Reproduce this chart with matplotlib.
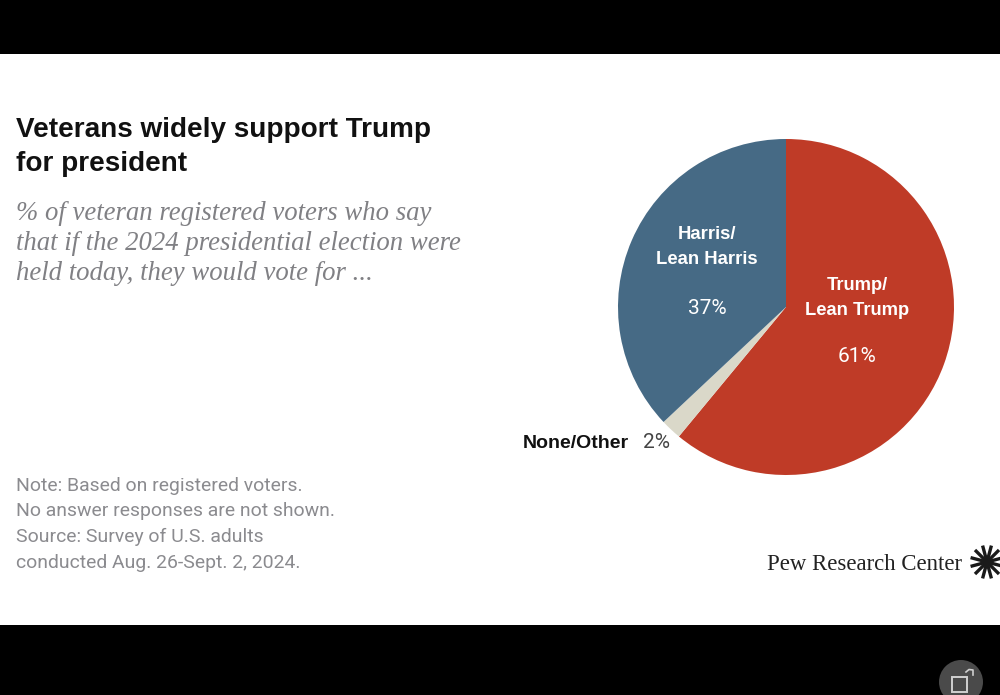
import numpy as np
import matplotlib
matplotlib.use("Agg")
import matplotlib.pyplot as plt
from matplotlib.patches import Rectangle, Circle

slice_names = ["Trump/\nLean Trump", "None/Other", "Harris/\nLean Harris"]
slice_values = [61, 2, 37]
slice_colors = ["#BF3B27", "#DAD8C9", "#466A85"]
value_labels = ["61%", "2%", "37%"]

title = "Veterans widely support Trump\nfor president"
subtitle = ["% of veteran registered voters who say",
            "that if the 2024 presidential election were",
            "held today, they would vote for ..."]
notes = ["Note: Based on registered voters.",
         "No answer responses are not shown.",
         "Source: Survey of U.S. adults",
         "conducted Aug. 26-Sept. 2, 2024."]

W, H = 1000, 695
fig = plt.figure(figsize=(W / 100, H / 100), dpi=100, facecolor="black")

# page layer in pixel coords
bg = fig.add_axes([0, 0, 1, 1])
bg.set_xlim(0, W)
bg.set_ylim(H, 0)
bg.axis("off")
bg.add_patch(Rectangle((0, 54), W, 571, color="white", lw=0))

# pie, centre 786,307 radius 168
cx, cy, r = 786, 307, 168
pie_ax = fig.add_axes([(cx - r) / W, 1 - (cy + r) / H, 2 * r / W, 2 * r / H])
pie_ax.pie(slice_values, colors=slice_colors, startangle=90, counterclock=False,
           radius=1, wedgeprops=dict(lw=0))
pie_ax.set_xlim(-1, 1)
pie_ax.set_ylim(-1, 1)

# text layer on top of the pie
fg = fig.add_axes([0, 0, 1, 1])
fg.set_xlim(0, W)
fg.set_ylim(H, 0)
fg.axis("off")
fg.patch.set_alpha(0)

SANS = "Liberation Sans"
fg.text(16, 130, title.split("\n")[0], family=SANS, weight="bold", fontsize=20.05,
        color="#111111", va="center")
fg.text(16, 164, title.split("\n")[1], family=SANS, weight="bold", fontsize=20.05,
        color="#111111", va="center")
for y, line in zip([213, 243, 274], subtitle):
    fg.text(16, y, line, family="Liberation Serif", style="italic", fontsize=19.3,
            color="#808084", va="center")
for y, line in zip([486, 511, 537, 563], notes):
    fg.text(16, y, line, family="Roboto", fontsize=13.95, color="#8b8b8f", va="center")

fg.text(857, 298, slice_names[0], family=SANS, weight="bold", fontsize=13.2, color="white",
        ha="center", va="center", linespacing=1.65)
fg.text(857, 356, value_labels[0], family="Roboto", fontsize=15, color="white",
        ha="center", va="center")
fg.text(707, 247, slice_names[2], family=SANS, weight="bold", fontsize=13.3, color="white",
        ha="center", va="center", linespacing=1.65)
fg.text(707, 308, value_labels[2], family="Roboto", fontsize=15, color="white",
        ha="center", va="center")
fg.text(629, 443, slice_names[1], family=SANS, weight="bold", fontsize=14, color="#111111",
        ha="right", va="center")
fg.text(643, 443, value_labels[1], family="Roboto", fontsize=15, color="#444444",
        ha="left", va="center")

# logo
fg.text(767, 564, "Pew Research Center", family="Liberation Serif", fontsize=16.4,
        color="#222222", va="center")
lx, ly = 987, 562
for a in np.arange(0, 360, 30):
    ca, sa = np.cos(np.radians(a + 15)), np.sin(np.radians(a + 15))
    fg.plot([lx + 3 * ca, lx + 17 * ca], [ly + 3 * sa, ly + 17 * sa],
            color="#1a1a1a", lw=2.4, solid_capstyle="butt")
fg.add_patch(Circle((lx, ly), 4.5, color="#1a1a1a", lw=0, zorder=5))

# phone rotate button
fg.add_patch(Circle((961, 682), 22, color="#4a4a4a", lw=0))
fg.add_patch(Rectangle((952, 677), 15, 15, fill=False, ec="#d0d0d0", lw=1.4))
fg.plot([966, 969, 973, 973], [672, 669.5, 670, 675], color="#d0d0d0", lw=1.2)

fig.savefig("out.png", dpi=100, facecolor=fig.get_facecolor())
